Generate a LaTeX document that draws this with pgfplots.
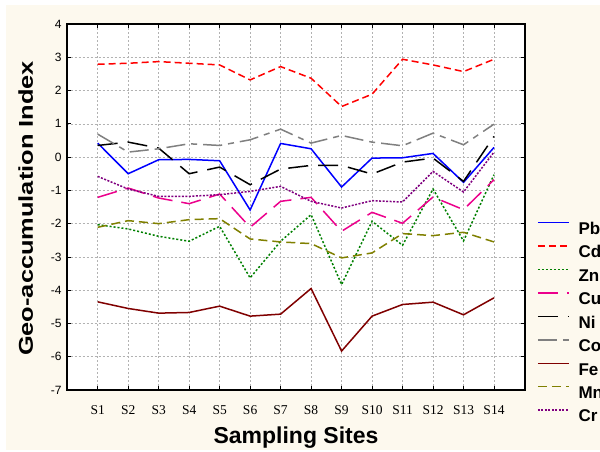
\documentclass[border=0pt]{standalone}
\usepackage{fontspec}
\setmainfont{Liberation Sans}
\newfontfamily\serifx{Liberation Serif}
\usepackage{pgfplots}
\pgfplotsset{compat=1.18}
\usepackage{graphicx}
\definecolor{bgcream}{RGB}{253,249,238}
\definecolor{cFe}{RGB}{128,0,0}
\definecolor{cMn}{RGB}{128,128,0}
\definecolor{cCr}{RGB}{128,0,128}
\definecolor{cZn}{RGB}{0,128,0}
\definecolor{cCo}{RGB}{128,128,128}
\begin{document}
\begin{tikzpicture}
\fill[white] (0,0) rectangle (600bp,452bp);
\fill[bgcream] (6bp,2bp) rectangle (600bp,447bp);
\begin{axis}[
  at={(66.7bp,62bp)}, anchor=south west,
  width=458.3bp, height=366bp, scale only axis,
  xmin=-0.017, xmax=15.017, ymin=-7, ymax=4,
  xtick={1,...,14},
  xticklabels={S1,S2,S3,S4,S5,S6,S7,S8,S9,S10,S11,S12,S13,S14},
  ytick={-7,-6,-5,-4,-3,-2,-1,0,1,2,3,4},
  yticklabels={-7,-6,-5,-4,-3,-2,-1,0,1,2,3,4},
  xticklabel style={font=\serifx\fontsize{13.5bp}{16bp}\selectfont, anchor=north, inner sep=0pt, yshift=-15bp},
  yticklabel style={font=\fontsize{12bp}{14bp}\selectfont, anchor=east, inner sep=0pt, xshift=-5bp},
  tick align=inside, major tick length=4bp,
  tick style={black, line width=0.8bp},
  axis line style={black, line width=1.6bp},
  axis background/.style={fill=white},
  grid=major,
  major grid style={gray!60, line width=0.5bp, dash pattern=on 2bp off 2bp},
  xlabel={Sampling Sites},
  xlabel style={font=\bfseries\fontsize{23bp}{26bp}\selectfont, at={(axis description cs:0.5003,-0.1475)}, anchor=base},
  ylabel={\scalebox{1.27}[1]{Geo-accumulation Index}},
  ylabel style={font=\bfseries\fontsize{20bp}{24bp}\selectfont, at={(axis description cs:-0.0892,0.496)}, anchor=center},
  no markers,
  every axis plot post/.append style={line width=1.5bp},
  legend cell align=left,
  legend image code/.code={\draw[#1] (0bp,7bp) -- (31bp,7bp); \path (40bp,0bp);},
  legend style={at={(axis description cs:1.0262,0.4705)}, anchor=north west, draw=none, fill=none, inner sep=0pt, outer sep=0pt, row sep=0pt,
    nodes={inner sep=0pt, text height=16.5bp, text depth=6.96bp, font=\bfseries\fontsize{17bp}{20bp}\selectfont}},
]
% Pb
\addplot[blue] coordinates {(1,0.42)(2,-0.50)(3,-0.08)(4,-0.07)(5,-0.11)(6,-1.59)(7,0.41)(8,0.25)(9,-0.90)(10,-0.03)(11,-0.02)(12,0.11)(13,-0.76)(14,0.29)};
\addlegendentry{Pb}
% Cd
\addplot[red, dash pattern=on 7bp off 4bp] coordinates {(1,2.79)(2,2.82)(3,2.87)(4,2.82)(5,2.77)(6,2.32)(7,2.72)(8,2.37)(9,1.52)(10,1.89)(11,2.94)(12,2.77)(13,2.57)(14,2.94)};
\addlegendentry{Cd}
% Zn
\addplot[cZn, dash pattern=on 2bp off 2bp] coordinates {(1,-2.03)(2,-2.16)(3,-2.38)(4,-2.53)(5,-2.08)(6,-3.63)(7,-2.53)(8,-1.73)(9,-3.83)(10,-1.93)(11,-2.65)(12,-0.96)(13,-2.52)(14,-0.53)};
\addlegendentry{Zn}
% Cu
\addplot[magenta, dash pattern=on 20bp off 9bp] coordinates {(1,-1.21)(2,-0.93)(3,-1.23)(4,-1.40)(5,-1.11)(6,-2.11)(7,-1.33)(8,-1.21)(9,-2.23)(10,-1.66)(11,-1.99)(12,-1.20)(13,-1.58)(14,-0.68)};
\addlegendentry{Cu}
% Ni
\addplot[black, dash pattern=on 20bp off 10bp] coordinates {(1,0.35)(2,0.45)(3,0.27)(4,-0.50)(5,-0.30)(6,-0.83)(7,-0.36)(8,-0.25)(9,-0.25)(10,-0.51)(11,-0.15)(12,-0.03)(13,-0.73)(14,0.62)};
\addlegendentry{Ni}
% Co
\addplot[cCo, dash pattern=on 19bp off 6bp on 6bp off 6bp] coordinates {(1,0.69)(2,0.15)(3,0.25)(4,0.40)(5,0.35)(6,0.52)(7,0.84)(8,0.42)(9,0.65)(10,0.45)(11,0.34)(12,0.72)(13,0.37)(14,0.99)};
\addlegendentry{Co}
% Fe
\addplot[cFe] coordinates {(1,-4.35)(2,-4.55)(3,-4.69)(4,-4.67)(5,-4.48)(6,-4.78)(7,-4.72)(8,-3.95)(9,-5.83)(10,-4.78)(11,-4.43)(12,-4.36)(13,-4.74)(14,-4.23)};
\addlegendentry{Fe}
% Mn
\addplot[cMn, dash pattern=on 9bp off 5bp] coordinates {(1,-2.11)(2,-1.91)(3,-2.00)(4,-1.88)(5,-1.85)(6,-2.46)(7,-2.55)(8,-2.60)(9,-3.03)(10,-2.88)(11,-2.30)(12,-2.36)(13,-2.26)(14,-2.55)};
\addlegendentry{Mn}
% Cr
\addplot[cCr, dash pattern=on 2bp off 1.5bp] coordinates {(1,-0.58)(2,-0.96)(3,-1.18)(4,-1.18)(5,-1.13)(6,-1.03)(7,-0.88)(8,-1.33)(9,-1.53)(10,-1.31)(11,-1.35)(12,-0.43)(13,-1.05)(14,0.15)};
\addlegendentry{Cr}
\end{axis}
\pgfresetboundingbox
\path (0,0) rectangle (600bp,452bp);
\end{tikzpicture}
\end{document}
